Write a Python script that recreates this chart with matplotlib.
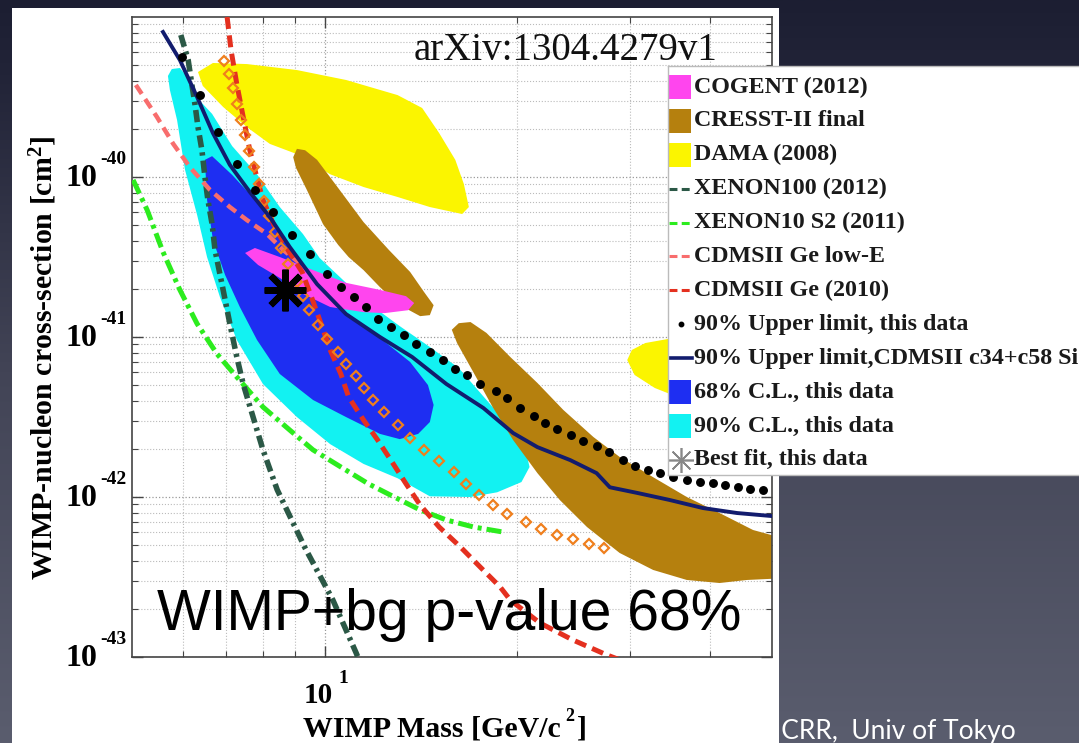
import matplotlib
matplotlib.use('Agg')
import matplotlib.pyplot as plt
import numpy as np
from matplotlib.patches import Rectangle

plt.rcParams['mathtext.fontset'] = 'custom'
plt.rcParams['mathtext.rm'] = 'Liberation Serif'
plt.rcParams['mathtext.bf'] = 'Liberation Serif:bold'
plt.rcParams['mathtext.it'] = 'Liberation Serif:italic'

# ---------------- data (WIMP mass in GeV/c^2, cross-section in cm^2) ----------------
cyan_mass = [5.69, 5.77, 5.94, 6.12, 6.32, 6.67, 7.17, 7.84, 8.51, 9.25, 9.82, 10.8, 11.7, 13.1,
             14.6, 16.2, 17.9, 19.5, 20.6, 20.9, 20.3, 18.6, 16.9, 14.6, 13.0, 11.5, 10.2, 9.05,
             8.01, 7.29, 6.86, 6.55, 6.32, 6.05, 5.88, 5.73]
cyan_sigma = [4.28e-40, 4.73e-40, 4.80e-40, 4.16e-40, 3.12e-40, 2.48e-40, 1.56e-40, 1.04e-40,
              6.49e-41, 4.40e-41, 3.12e-41, 2.18e-41, 1.63e-41, 1.17e-41, 8.66e-42, 6.40e-42,
              4.04e-42, 2.74e-42, 1.97e-42, 1.54e-42, 1.24e-42, 1.07e-42, 1.00e-42, 1.01e-42,
              1.31e-42, 1.61e-42, 2.14e-42, 3.16e-42, 5.08e-42, 9.58e-42, 1.78e-41, 3.16e-41,
              5.79e-41, 1.11e-40, 2.27e-40, 3.50e-40]

blue_mass = [6.50, 6.67, 7.17, 7.92, 8.82, 9.73, 10.8, 12.2, 13.6, 14.5, 14.8, 14.6, 14.0, 13.1,
             12.2, 10.8, 9.59, 8.51, 7.84, 7.37, 6.99, 6.69, 6.55]
blue_sigma = [1.28e-40, 1.35e-40, 1.03e-40, 6.68e-41, 3.65e-41, 2.18e-41, 1.43e-41, 9.86e-42,
              6.98e-42, 5.01e-42, 3.76e-42, 2.94e-42, 2.48e-42, 2.30e-42, 2.48e-42, 3.16e-42,
              4.04e-42, 5.87e-42, 9.58e-42, 1.54e-41, 2.44e-41, 4.04e-41, 7.18e-41]

cogent_mass = [7.51, 7.78, 8.51, 9.59, 10.8, 12.2, 13.4, 13.8, 13.5, 12.4, 11.5, 10.2, 9.25, 8.51, 7.87]
cogent_sigma = [3.35e-41, 3.60e-41, 3.16e-41, 2.62e-41, 2.18e-41, 1.97e-41, 1.80e-41, 1.63e-41,
                1.47e-41, 1.41e-41, 1.43e-41, 1.54e-41, 1.86e-41, 2.34e-41, 2.82e-41]

dama1_mass = [6.34, 6.69, 7.56, 9.05, 10.8, 13.0, 14.2, 15.1, 16.0, 16.5, 16.8, 16.4, 14.6, 13.0,
              11.5, 10.2, 9.05, 8.21, 7.56, 6.94, 6.45]
dama1_sigma = [4.53e-40, 5.16e-40, 5.08e-40, 4.66e-40, 4.04e-40, 3.25e-40, 2.70e-40, 1.88e-40,
               1.28e-40, 9.04e-41, 6.49e-41, 5.87e-41, 6.49e-41, 7.50e-41, 8.66e-41, 1.04e-40,
               1.39e-40, 1.61e-40, 2.05e-40, 2.74e-40, 3.71e-40]

dama2_mass = [29.7, 30.2, 31.7, 34.4, 38.6, 42.9, 45.4, 44.5, 40.7, 35.9, 32.8, 30.5]
dama2_sigma = [7.18e-42, 8.30e-42, 9.17e-42, 9.72e-42, 1.00e-41, 9.31e-42, 7.18e-42, 5.01e-42,
               4.16e-42, 4.16e-42, 4.80e-42, 5.79e-42]

cresst1_mass = [8.93, 9.05, 9.32, 9.73, 10.5, 11.5, 12.6, 13.6, 14.3, 14.8, 14.6, 14.1, 13.0, 12.2,
                11.5, 10.9, 10.5, 9.94, 9.38, 9.02]
cresst1_sigma = [1.33e-40, 1.50e-40, 1.47e-40, 1.28e-40, 8.53e-41, 5.23e-41, 3.50e-41, 2.55e-41,
                 1.91e-41, 1.58e-41, 1.37e-41, 1.35e-41, 1.61e-41, 2.05e-41, 2.62e-41, 3.16e-41,
                 3.76e-41, 5.08e-41, 8.30e-41, 1.14e-40]

cresst2_mass = [15.8, 16.2, 16.9, 17.9, 19.5, 21.5, 23.6, 26.3, 28.9, 32.6, 36.8, 41.4, 46.7, 53.3,
                53.3, 45.7, 41.4, 36.8, 32.6, 28.9, 25.7, 23.3, 21.5, 19.7, 18.3, 17.1, 16.1]
cresst2_sigma = [1.11e-41, 1.22e-41, 1.24e-41, 1.06e-41, 7.50e-42, 5.16e-42, 3.50e-42, 2.37e-42,
                 1.78e-42, 1.33e-42, 1.00e-42, 7.94e-43, 6.22e-43, 5.38e-43, 3.12e-43, 3.03e-43,
                 2.90e-43, 3.03e-43, 3.50e-43, 4.47e-43, 6.49e-43, 9.58e-43, 1.41e-42, 2.27e-42,
                 3.65e-42, 5.96e-42, 9.17e-42]

cdms_si_mass = [5.59, 5.94, 6.32, 6.69, 7.11, 7.64, 8.21, 8.82, 9.73, 10.8, 12.2, 13.7, 15.5, 17.7,
                19.7, 21.5, 24.2, 26.6, 27.9, 30.8, 34.6, 39.0, 44.1, 50.0]
cdms_si_sigma = [8.06e-40, 5.38e-40, 3.16e-40, 1.88e-40, 1.19e-40, 8.06e-41, 5.62e-41, 3.65e-41,
                 2.14e-41, 1.39e-41, 1.00e-41, 7.50e-42, 5.08e-42, 3.60e-42, 2.51e-42, 2.05e-42,
                 1.70e-42, 1.41e-42, 1.15e-42, 1.06e-42, 9.58e-43, 8.53e-43, 7.94e-43, 7.60e-43]

ul_mass = [5.98, 6.39, 6.81, 7.29, 7.78, 8.30, 8.89, 9.48, 10.1, 10.6, 11.1, 11.6, 12.1, 12.7, 13.3,
           13.9, 14.6, 15.3, 16.0, 16.7, 17.5, 18.5, 19.3, 20.2, 21.2, 22.1, 23.1, 24.3, 25.3, 26.6,
           27.8, 29.2, 30.5, 32.0, 33.4, 35.0, 36.8, 38.6, 40.4, 42.2, 44.2, 46.2, 48.4]
ul_sigma = [5.62e-40, 3.25e-40, 1.91e-40, 1.21e-40, 8.30e-41, 6.04e-41, 4.34e-41, 3.30e-41,
            2.48e-41, 2.05e-41, 1.78e-41, 1.54e-41, 1.30e-41, 1.15e-41, 1.03e-41, 9.04e-42,
            8.06e-42, 7.18e-42, 6.31e-42, 5.79e-42, 5.08e-42, 4.60e-42, 4.16e-42, 3.60e-42,
            3.21e-42, 2.90e-42, 2.66e-42, 2.44e-42, 2.24e-42, 2.08e-42, 1.91e-42, 1.70e-42,
            1.56e-42, 1.47e-42, 1.41e-42, 1.33e-42, 1.28e-42, 1.24e-42, 1.22e-42, 1.19e-42,
            1.15e-42, 1.13e-42, 1.11e-42]

diam_mass = [6.96, 7.09, 7.19, 7.29, 7.40, 7.51, 7.62, 7.76, 7.90, 8.04, 8.19, 8.36, 8.55, 8.76,
             9.05, 9.25, 9.45, 9.76, 10.1, 10.5, 10.8, 11.2, 11.5, 11.9, 12.4, 13.0, 13.6, 14.3,
             15.1, 15.9, 16.6, 17.4, 18.3, 19.3, 20.6, 21.8, 23.1, 24.4, 25.9, 27.3]
diam_sigma = [5.31e-40, 4.40e-40, 3.60e-40, 2.86e-40, 2.27e-40, 1.83e-40, 1.45e-40, 1.15e-40,
              9.04e-41, 7.08e-41, 5.70e-41, 4.53e-41, 3.60e-41, 2.86e-41, 2.21e-41, 1.80e-41,
              1.47e-41, 1.19e-41, 9.72e-42, 8.06e-42, 6.78e-42, 5.70e-42, 4.80e-42, 4.04e-42,
              3.40e-42, 2.82e-42, 2.34e-42, 1.97e-42, 1.68e-42, 1.43e-42, 1.21e-42, 1.03e-42,
              8.91e-43, 7.83e-43, 6.98e-43, 6.31e-43, 5.79e-43, 5.47e-43, 5.08e-43, 4.80e-43]

ge2010_mass = [7.04, 7.14, 7.29, 7.46, 7.64, 7.84, 8.01, 8.33, 8.76, 9.22, 9.55, 9.87, 10.2, 10.6,
               10.9, 11.5, 12.1, 12.8, 13.4, 14.1, 15.1, 16.3, 17.5, 18.8, 19.5, 21.7, 24.4, 27.6, 29.5]
ge2010_sigma = [1.0e-39, 6.22e-40, 3.81e-40, 2.37e-40, 1.47e-40, 9.86e-41, 7.18e-41, 5.01e-41,
                3.50e-41, 2.55e-41, 1.75e-41, 1.21e-41, 8.30e-42, 5.87e-42, 4.22e-42, 3.03e-42,
                2.27e-42, 1.61e-42, 1.21e-42, 8.91e-43, 6.49e-43, 4.87e-43, 3.65e-43, 2.74e-43,
                2.27e-43, 1.63e-43, 1.28e-43, 1.03e-43, 9.31e-44]

lowe_mass = [5.07, 5.47, 5.80, 6.16, 6.62, 7.11, 7.56, 8.13, 8.61, 9.14]
lowe_sigma = [3.76e-40, 2.37e-40, 1.61e-40, 1.15e-40, 8.30e-41, 6.49e-41, 5.38e-41, 4.40e-41,
              3.50e-41, 2.90e-41]

x100_mass = [5.96, 6.12, 6.20, 6.27, 6.34, 6.43, 6.50, 6.57, 6.67, 6.74, 6.94, 7.11, 7.29, 7.46,
             7.73, 8.01, 8.43, 9.32, 10.3, 11.2, 11.4]
x100_sigma = [7.72e-40, 5.38e-40, 3.81e-40, 2.86e-40, 2.05e-40, 1.47e-40, 1.00e-40, 7.18e-41,
              5.08e-41, 3.50e-41, 1.97e-41, 1.21e-41, 7.50e-42, 5.08e-42, 3.16e-42, 1.97e-42,
              1.11e-42, 4.80e-43, 2.27e-43, 1.06e-43, 8.91e-44]

x10_mass = [5.02, 5.28, 5.59, 5.94, 6.32, 6.79, 7.29, 8.01, 8.82, 9.59, 10.6, 11.7, 12.6, 14.1,
            15.5, 17.1, 19.0]
x10_sigma = [9.58e-41, 6.22e-41, 3.40e-41, 1.97e-41, 1.21e-41, 7.83e-42, 5.62e-42, 3.65e-42,
             2.62e-42, 1.97e-42, 1.54e-42, 1.21e-42, 1.04e-42, 8.30e-43, 7.18e-43, 6.49e-43, 6.04e-43]

best_mass = [8.67]
best_sigma = [1.97e-41]

legend_labels = ['COGENT (2012)', 'CRESST-II final', 'DAMA (2008)', 'XENON100 (2012)',
                 'XENON10 S2 (2011)', 'CDMSII Ge low-E', 'CDMSII Ge (2010)',
                 '90% Upper limit, this data', '90% Upper limit,CDMSII c34+c58 Si',
                 '68% C.L., this data', '90% C.L., this data', 'Best fit, this data']

xtick_vals = [10]
xtick_exps = ['1']
ytick_vals = [1e-43, 1e-42, 1e-41, 1e-40]
ytick_exps = ['-43', '-42', '-41', '-40']

# ---------------- styles ----------------
C_COGENT = '#ff45ee'
C_CRESST = '#b5800e'
C_DAMA = '#fbf500'
C_X100 = '#2b5846'
C_X10 = '#2cec1e'
C_LOWE = '#f86d6d'
C_GE = '#e4301f'
C_NAVY = '#121c6e'
C_68 = '#1e2ef2'
C_90 = '#12f2f2'
C_DIA = '#ef7f1d'
SERIF = 'Liberation Serif'
PT = 0.72  # points per pixel at dpi 100

W, H = 1079, 743
fig = plt.figure(figsize=(W / 100, H / 100), dpi=100)

# slide background
bg = fig.add_axes([0, 0, 1, 1], zorder=-5)
bg.set_xlim(0, W)
bg.set_ylim(H, 0)
bg.axis('off')
ys = np.linspace(0, 1, 300)
stops = [0.0, 0.1, 0.5, 1.0]
cols = np.array([[28, 30, 50], [34, 36, 56], [66, 68, 86], [90, 93, 110]]) / 255.0
grad = np.stack([np.interp(ys, stops, cols[:, k]) for k in range(3)], axis=-1)[:, None, :]
bg.imshow(grad, extent=[0, W, H, 0], aspect='auto', zorder=0)
bg.text(1016, 739, 'ICRR,  Univ of Tokyo', ha='right', va='baseline', color='white',
        fontsize=19, family='Lato', zorder=1)
bg.add_patch(Rectangle((12, 8), 767, 740, fc='white', ec='none', zorder=2))

# main axes
ax = fig.add_axes([132 / W, 1 - 657 / H, 640 / W, 640 / H], zorder=1)
ax.set_xscale('log')
ax.set_yscale('log')
ax.set_facecolor('white')

ax.fill(cyan_mass, cyan_sigma, color=C_90, lw=0, zorder=1)
ax.fill(blue_mass, blue_sigma, color=C_68, lw=0, zorder=2)
ax.fill(dama1_mass, dama1_sigma, color=C_DAMA, lw=0, zorder=2)
ax.fill(dama2_mass, dama2_sigma, color=C_DAMA, lw=0, zorder=2)
ax.fill(cresst1_mass, cresst1_sigma, color=C_CRESST, lw=0, zorder=2)
ax.fill(cresst2_mass, cresst2_sigma, color=C_CRESST, lw=0, zorder=2)
ax.fill(cogent_mass, cogent_sigma, color=C_COGENT, lw=0, zorder=3)

ax.plot(x10_mass, x10_sigma, color=C_X10, lw=3.6, dashes=(3.0, 1.0, 0.8, 1.0), zorder=4)
ax.plot(x100_mass, x100_sigma, color=C_X100, lw=4.0, dashes=(2.2, 0.9, 0.6, 0.9), zorder=4)
ax.plot(lowe_mass, lowe_sigma, color=C_LOWE, lw=3.2, dashes=(2.4, 1.4), zorder=4)
ax.plot(ge2010_mass, ge2010_sigma, color=C_GE, lw=3.6, dashes=(2.4, 1.3), zorder=4)
ax.plot(diam_mass, diam_sigma, ls='none', marker='D', ms=5.5, mfc='none', mec=C_DIA, mew=1.6, zorder=5)
ax.plot(cdms_si_mass, cdms_si_sigma, color=C_NAVY, lw=2.8, zorder=6)
ax.plot(ul_mass, ul_sigma, ls='none', marker='o', ms=5.4, color='black', zorder=7)
ax.plot(best_mass, best_sigma, ls='none', marker=(8, 2, 0), ms=30, mew=4.5, color='black', zorder=8)

ax.set_xlim(5, 50)
ax.set_ylim(1e-43, 1e-39)
ax.set_xticks(xtick_vals)
ax.set_xticklabels([])
ax.set_xticks([6, 7, 8, 9, 20, 30, 40], minor=True)
ax.xaxis.set_minor_formatter(matplotlib.ticker.NullFormatter())
ax.set_yticks(ytick_vals)
ax.set_yticklabels([])
ax.set_yticks([k * 10.0 ** e for e in range(-43, -39) for k in range(2, 10)], minor=True)
ax.yaxis.set_minor_formatter(matplotlib.ticker.NullFormatter())
ax.tick_params(which='both', direction='in', top=True, right=True, color='#444444')
ax.tick_params(which='major', length=8, width=1.0)
ax.tick_params(which='minor', length=4, width=0.8)
ax.set_axisbelow(True)
ax.grid(True, which='major', ls=':', color='#999999', lw=0.9)
ax.grid(True, which='minor', ls=':', color='#bbbbbb', lw=0.8)
for sp in ax.spines.values():
    sp.set_color('#444444')
    sp.set_linewidth(1.2)

# tick labels drawn as "10" with a small raised exponent (MATLAB style)
for v, e in zip(ytick_vals, ytick_exps):
    ax.annotate('10', xy=(0, v), xycoords=('axes fraction', 'data'), xytext=(-35 * PT, -2 * PT),
                textcoords='offset points', ha='right', va='center', fontsize=23,
                fontweight='bold', family=SERIF, annotation_clip=False)
    ax.annotate(e, xy=(0, v), xycoords=('axes fraction', 'data'), xytext=(-32 * PT, 18 * PT),
                textcoords='offset points', ha='left', va='center', fontsize=14,
                fontweight='bold', family=SERIF, annotation_clip=False)
for v, e in zip(xtick_vals, xtick_exps):
    ax.annotate('10', xy=(v, 0), xycoords=('data', 'axes fraction'), xytext=(-6 * PT, -46 * PT),
                textcoords='offset points', ha='center', va='baseline', fontsize=21,
                fontweight='bold', family=SERIF, annotation_clip=False)
    ax.annotate(e, xy=(v, 0), xycoords=('data', 'axes fraction'), xytext=(19 * PT, -26 * PT),
                textcoords='offset points', ha='center', va='baseline', fontsize=14,
                fontweight='bold', family=SERIF, annotation_clip=False)

# legend (manual, upper right, partly outside the slide)
lg = fig.add_axes([668 / W, 1 - 475 / H, (1100 - 668) / W, (475 - 66) / H], zorder=3)
lg.set_xlim(668, 1100)
lg.set_ylim(475, 66)
lg.set_xticks([])
lg.set_yticks([])
lg.set_facecolor('white')
for sp in lg.spines.values():
    sp.set_color('#bbbbbb')
    sp.set_linewidth(1.0)

legend_kind = ['patch', 'patch', 'patch', 'dash', 'dash', 'dash', 'dash', 'dot', 'solid',
               'patch', 'patch', 'star']
legend_color = [C_COGENT, C_CRESST, C_DAMA, C_X100, C_X10, C_LOWE, C_GE, 'black', C_NAVY,
                C_68, C_90, '#888888']
for i, (lab, kind, col) in enumerate(zip(legend_labels, legend_kind, legend_color)):
    y = 87 + 33.9 * i
    if kind == 'patch':
        lg.add_patch(Rectangle((669, y - 12), 22, 24, fc=col, ec='none'))
    elif kind == 'dash':
        lg.plot([669, 692], [y, y], color=col, lw=2.2, dashes=(2.6, 1.4))
    elif kind == 'dot':
        lg.plot([681], [y], 'o', ms=3.2, color=col)
    elif kind == 'solid':
        lg.plot([669, 692], [y, y], color=col, lw=2.6)
    elif kind == 'star':
        lg.plot([681], [y], ls='none', marker=(8, 2, 0), ms=18, mew=1.2, color=col)
    lg.text(694, y, lab, ha='left', va='center', fontsize=17.3, fontweight='bold',
            family=SERIF, color='#1a1a1a')

# annotations
fig.text(566 / W, 1 - 60 / H, 'arXiv:1304.4279v1', ha='center', va='baseline', fontsize=28,
         family=SERIF, color='#111111', zorder=5)
fig.text(157 / W, 1 - 630 / H, 'WIMP+bg p-value 68%', ha='left', va='baseline', fontsize=41,
         family='Liberation Sans', color='black', zorder=5)
# x-axis label: "WIMP Mass [GeV/c" + raised "2" + "]"
fig.text(561 / W, 1 - 737 / H, 'WIMP Mass [GeV/c', ha='right', va='baseline',
         fontsize=21.5, fontweight='bold', family=SERIF, zorder=5)
fig.text(569.5 / W, 1 - 721 / H, '2', ha='center', va='baseline',
         fontsize=13, fontweight='bold', family=SERIF, zorder=5)
fig.text(577 / W, 1 - 737 / H, ']', ha='left', va='baseline',
         fontsize=21.5, fontweight='bold', family=SERIF, zorder=5)
fig.text(43 / W, 1 - 358 / H, r'WIMP-nucleon cross-section [cm$^{\mathbf{2}}$]', rotation=90,
         ha='center', va='center', fontsize=21.5, fontweight='bold', family=SERIF, zorder=5)

fig.savefig('out.png', dpi=100)
